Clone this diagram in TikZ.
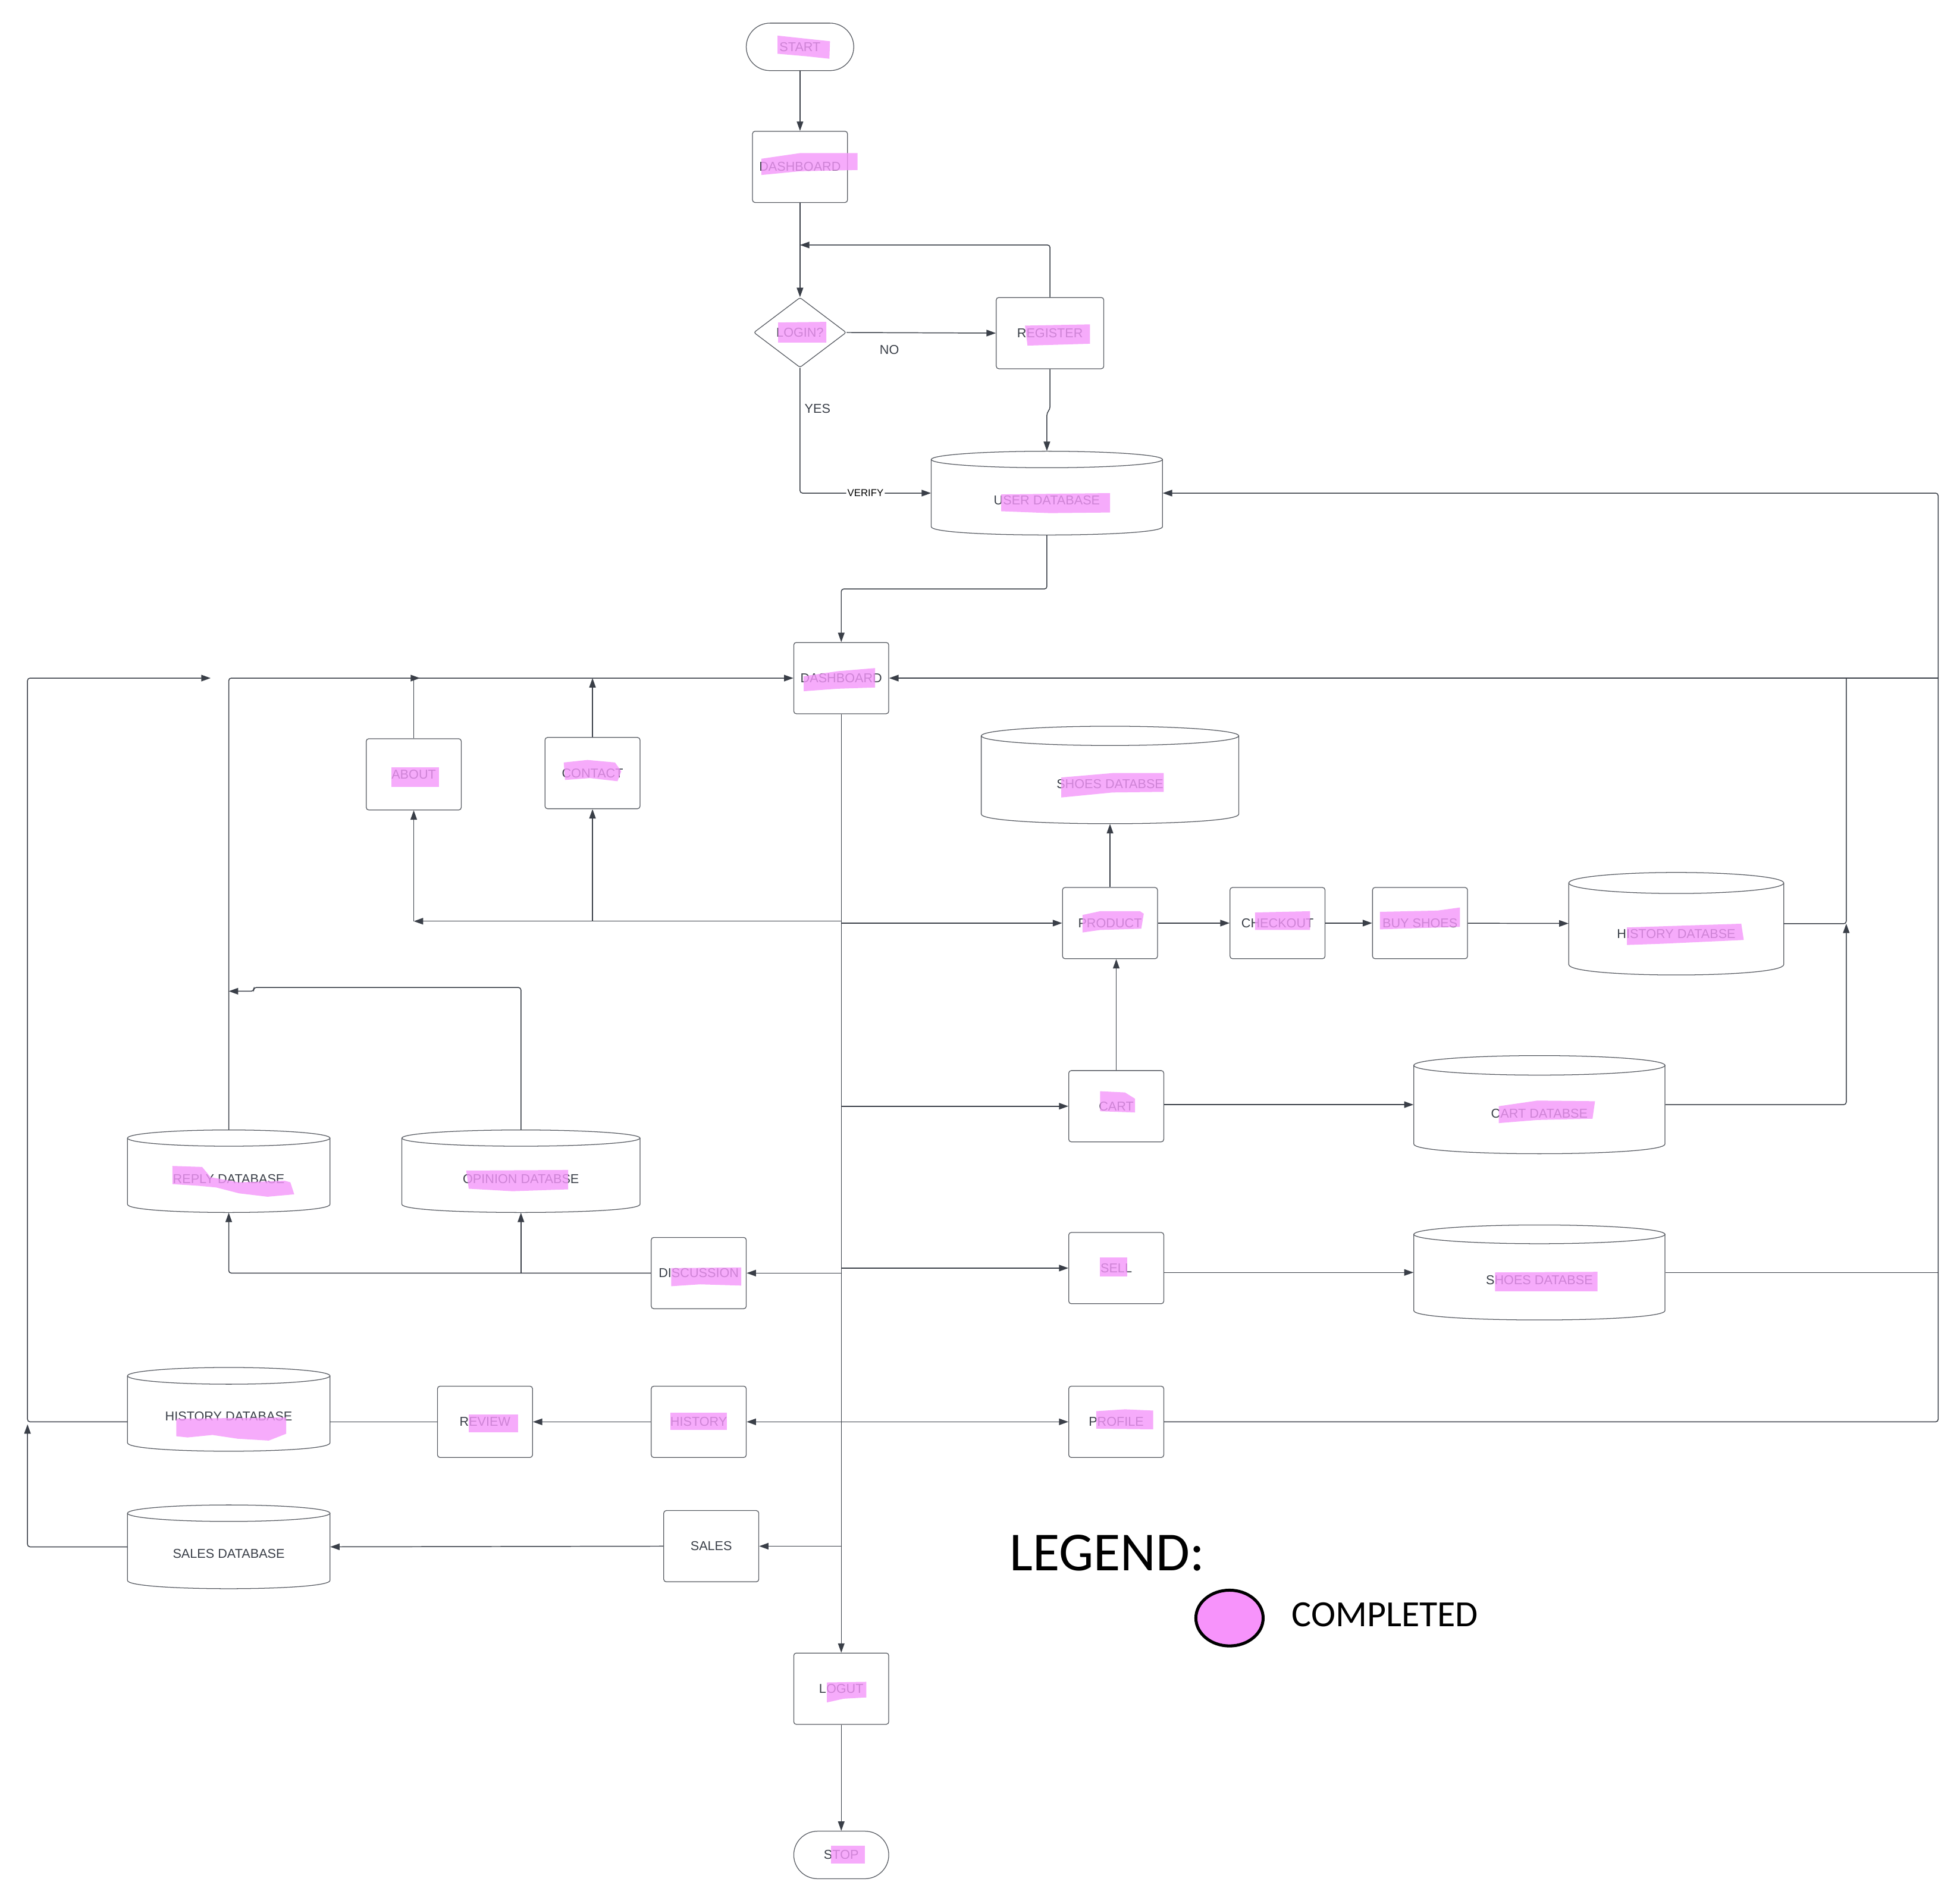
\documentclass[tikz,border=0pt]{standalone}
\usepackage{fontspec}
\setmainfont{Liberation Sans}
\newfontfamily\legendfont{Carlito}
\usetikzlibrary{shapes.geometric,arrows.meta}

\definecolor{ink}{RGB}{58,63,72}
\definecolor{hlpink}{RGB}{244,150,250}
\definecolor{donepink}{RGB}{247,147,251}

\tikzset{
	box/.style={draw=ink!85, line width=0.6, rounded corners=2, minimum width=76, minimum height=57, inner sep=0, text=ink, font=\fontsize{10.3}{12}\selectfont},
	term/.style={box, rounded corners=19, minimum height=38},
	decision/.style={diamond, draw=ink!85, line width=0.6, rounded corners=1.5, minimum width=74, minimum height=56, inner sep=0, text=ink, font=\fontsize{10.3}{12}\selectfont},
	dbbox/.style={draw=none, inner sep=0},
	shapeline/.style={draw=ink!85, line width=0.6},
	txt/.style={text=ink, inner sep=0, font=\fontsize{10.3}{12}\selectfont},
	flowlbl/.style={fill=white, inner sep=1, text=black, font=\fontsize{8}{9}\selectfont},
	wire/.style={draw=ink, line width=0.7, rounded corners=2},
	arr/.style={wire, -{Triangle[length=7.5pt,width=5.2pt]}},
	hl/.style={fill=hlpink, opacity=0.8}
}

\begin{document}
\begin{tikzpicture}[x=1pt,y=-1pt]
	\fill[white] (0,0) rectangle (1568,1523);
	\useasboundingbox (0,0) rectangle (1568,1523);

	%STEPS
	\node[term, minimum width=86] (start) at (640,37.5) {START};
	\node[box] (dasha) at (640,133.5) {DASHBOARD};
	\node[decision] (login) at (640,266) {LOGIN?};
	\node[box, minimum width=86] (reg) at (840,266.5) {REGISTER};
	\node[box] (dashb) at (673,542.5) {DASHBOARD};
	\node[box] (about) at (331,619.5) {ABOUT};
	\node[box] (contact) at (474,618.5) {CONTACT};
	\node[box] (product) at (888,738.5) {PRODUCT};
	\node[box] (checkout) at (1022,738.5) {CHECKOUT};
	\node[box] (buy) at (1136,738.5) {BUY SHOES};
	\node[box] (cart) at (893,885) {CART};
	\node[box] (sell) at (893,1014.5) {SELL};
	\node[box] (profile) at (893,1137.5) {PROFILE};
	\node[box] (disc) at (559,1018.5) {DISCUSSION};
	\node[box] (review) at (388,1137.5) {REVIEW};
	\node[box] (hist) at (559,1137.5) {HISTORY};
	\node[box] (sales) at (569,1237) {SALES};
	\node[box] (logout) at (673,1351) {LOGUT};
	\node[term] (stop) at (673,1484) {STOP};

	%DATABASES: name/centre x/top/bottom/half width/lid/text y/text
	\foreach \nm/\cx/\yt/\yb/\hw/\ry/\ty/\txt in {
		userdb/837.5/361/428/92.5/6.6/400/USER DATABASE,
		shoesdb/888/581/659/103/7.7/627/SHOES DATABSE,
		histdb/1341/698/780/86/8.4/747/HISTORY DATABSE,
		cartdb/1231.5/844.5/923/100.5/7.8/891/CART DATABSE,
		shoesdbb/1231.5/980/1056/100.5/7.5/1024/SHOES DATABSE,
		replydb/183/904/970/81/6.5/943/REPLY DATABASE,
		opiniondb/416.75/904/970/95.25/6.5/943/OPINION DATABSE,
		histdbl/183/1094/1161/81/6.7/1133/HISTORY DATABASE,
		salesdb/183/1204/1271/81/6.6/1243/SALES DATABASE}{
	\node[dbbox, minimum width=2*\hw, minimum height=\yb-\yt] (\nm) at (\cx,{(\yt+\yb)/2}) {};
	\draw[shapeline] (\cx,\yt+\ry) ellipse[x radius=\hw, y radius=\ry];
	\draw[shapeline] (\cx-\hw,\yt+\ry) -- (\cx-\hw,\yb-\ry) .. controls (\cx-\hw,\yb+\ry/3) and (\cx+\hw,\yb+\ry/3) .. (\cx+\hw,\yb-\ry) -- (\cx+\hw,\yt+\ry);
	\node[txt] (\nm txt) at (\cx,\ty) {\txt};
	}

	%FREE ENDS
	\coordinate (regback) at (640,196);
	\coordinate (hub) at (673,737);
	\coordinate (aboutend) at (336,542.5);
	\coordinate (leftup) at (22,542.5);
	\coordinate (leftend) at (168.5,542.5);
	\coordinate (salesup) at (22,1139.5);
	\coordinate (opjog) at (203,790);
	\coordinate (rline) at (1550.5,394.5);
	\coordinate (hup) at (1477,542.5);

	%LOGIN PART
	\draw[arr] (start) -- (dasha);
	\draw[arr] (dasha) -- (login);
	\draw[arr] (login.east) -- (reg.west);
	\draw[arr] (reg.north) |- (regback);
	\draw[arr] (reg.south) -- ++(0,32) -- ++(-2.5,3) -- (userdb.north);
	\draw[arr] (login.south) |- node[pos=0.75, flowlbl] (verifylbl) {VERIFY} (userdb.west);
	\node[txt] (nolbl) at (711.5,280) {NO};
	\node[txt] (yeslbl) at (654,327) {YES};
	\draw[arr] (userdb.south) -- ++(0,43) -| (dashb.north);

	%MAIN LINE
	\draw[arr] (dashb.south) -- (logout.north);
	\draw[arr] (logout) -- (stop);

	%LEFT SIDE
	\draw[arr] (hub) -- (hub -| about.south);
	\draw[arr] (hub -| about.south) -- (about.south);
	\draw[arr] (hub -| contact.south) -- (contact.south);
	\draw[arr, rounded corners=0] (about.north) |- (aboutend);
	\draw[arr] (contact.north) -- (contact.north |- dashb.west);
	\draw[arr] (replydb.north) |- (dashb.west);
	\draw[arr] (opiniondb.north) |- (opjog) -- ++(0,3) -- ++(-20,0);
	\draw[arr] (dashb.south |- disc.east) -- (disc.east);
	\draw[arr] (disc.west) -| (replydb.south);
	\draw[arr] (opiniondb.south |- disc.west) -- (opiniondb.south);
	\draw[arr] (dashb.south |- hist.east) -- (hist.east);
	\draw[arr] (hist.west) -- (review.east);
	\draw[wire] (review.west) -- (histdbl.east |- review.west);
	\draw[arr] (histdbl.west |- review.west) -| (leftup) -- (leftend);
	\draw[arr] (dashb.south |- sales.east) -- (sales.east);
	\draw[arr] (sales.west) -- (salesdb.east);
	\draw[arr] (salesdb.west) -| (salesup);

	%RIGHT SIDE
	\draw[arr] (dashb.south |- product.west) -- (product.west);
	\draw[arr] (product) -- (shoesdb);
	\draw[arr] (product) -- (checkout);
	\draw[arr] (checkout) -- (buy);
	\draw[arr] (buy) -- (histdb);
	\draw[arr] (dashb.south |- cart.west) -- (cart.west);
	\draw[arr] (cart.north) -- (cart.north |- product.south);
	\draw[arr] (cart.east |- cartdb.west) -- (cartdb.west);
	\draw[arr] (dashb.south |- sell.west) -- (sell.west);
	\draw[arr] (sell.east |- shoesdbb.west) -- (shoesdbb.west);
	\draw[arr] (dashb.south |- profile.west) -- (profile.west);
	\draw[arr] (profile.east) -| (rline) -- (userdb.east);
	\draw[arr] (dashb.east -| rline) -- (dashb.east);
	\draw[wire] (shoesdbb.east) -- (shoesdbb.east -| rline);
	\draw[wire] (histdb.east) -| (hup);
	\draw[arr] (cartdb.east) -| (hup |- histdb.east);

	%LEGEND
	\node[inner sep=0, font=\legendfont\fontsize{44}{50}\selectfont] (legend) at (885.7,1242.5) {LEGEND:};
	\node[ellipse, draw=black, line width=2.4, fill=donepink, minimum width=53.8, minimum height=44.6, inner sep=0] (donemark) at (983.6,1294.5) {};
	\node[inner sep=0, font=\legendfont\fontsize{29.5}{34}\selectfont] (donetxt) at (1108,1292) {COMPLETED};

	%HIGHLIGHTER MARKS
	\fill[hl] (622,28.5) -- (664,33) -- (663.5,47) -- (645,45) -- (622,43) -- cycle;
	\fill[hl] (609,127) -- (640,122.5) -- (686,122.5) -- (686,136) -- (640,137) -- (609,140) -- cycle;
	\fill[hl] (622.5,258) -- (661,257.5) -- (661,274) -- (622.5,274) -- cycle;
	\fill[hl] (820,260.5) -- (872,259.5) -- (872,275) -- (822,276.5) -- cycle;
	\fill[hl] (801,395.5) -- (888,394.5) -- (888,410) -- (840,410.5) -- (801,409) -- cycle;
	\fill[hl] (643,541) -- (670,537) -- (700,534.5) -- (700,550) -- (670,551) -- (643,553) -- cycle;
	\fill[hl] (313,614) -- (351,614) -- (351,629.5) -- (313,629.5) -- cycle;
	\fill[hl] (451,610) -- (470,608) -- (492,610) -- (497,617) -- (494,625) -- (472,622.5) -- (452,624) -- cycle;
	\fill[hl] (849,622) -- (890,618.5) -- (931,618.5) -- (931,633.5) -- (890,634) -- (849,638) -- cycle;
	\fill[hl] (866,732) -- (880,729) -- (912,729) -- (915,731) -- (913,743) -- (880,744) -- (866,746) -- cycle;
	\fill[hl] (1004,730) -- (1048,729) -- (1048,744) -- (1004,744) -- cycle;
	\fill[hl] (1104,729.5) -- (1150,728.5) -- (1168,726) -- (1168,741.5) -- (1104,743.5) -- cycle;
	\fill[hl] (1301.5,742) -- (1393,739) -- (1395,752) -- (1330,755) -- (1301.5,756) -- cycle;
	\fill[hl] (880,873) -- (900,874) -- (908,879) -- (908,890) -- (880,889) -- cycle;
	\fill[hl] (1199,885) -- (1230,880.5) -- (1276,881) -- (1274,895) -- (1230,896) -- (1199,898.5) -- cycle;
	\fill[hl] (880,1006) -- (902,1006) -- (902,1021) -- (880,1021) -- cycle;
	\fill[hl] (1196,1018) -- (1278,1017.5) -- (1278,1033) -- (1196,1033) -- cycle;
	\fill[hl] (877,1129) -- (900,1127.5) -- (922.5,1128.5) -- (922.5,1143.5) -- (877,1143) -- cycle;
	\fill[hl] (138,932.8) -- (161.7,933.6) -- (168.5,941.8) -- (191.3,945.9) -- (227.7,944.6) -- (232.3,945.9) -- (235.4,955.5) -- (214,957.4) -- (191.3,954.7) -- (173,950) -- (159.4,948.7) -- (138,947.3) -- cycle;
	\fill[hl] (373,936.5) -- (454.5,936) -- (454.5,951.5) -- (410,953) -- (375,951) -- cycle;
	\fill[hl] (537,1014.5) -- (593,1014) -- (593,1028.5) -- (560,1027.5) -- (537,1029) -- cycle;
	\fill[hl] (141,1135) -- (229,1134) -- (229,1147) -- (215,1152.5) -- (190,1151) -- (170,1148) -- (150,1150) -- (141,1149) -- cycle;
	\fill[hl] (375,1131.5) -- (414.5,1131.5) -- (414.5,1146) -- (375,1146) -- cycle;
	\fill[hl] (536.5,1130) -- (581.5,1130) -- (581.5,1144) -- (536.5,1144) -- cycle;
	\fill[hl] (661.5,1346) -- (693,1345.5) -- (693,1358) -- (675,1359) -- (661.5,1362) -- cycle;
	\fill[hl] (665,1476.5) -- (692,1476.5) -- (692,1491) -- (665,1491) -- cycle;
\end{tikzpicture}
\end{document}
